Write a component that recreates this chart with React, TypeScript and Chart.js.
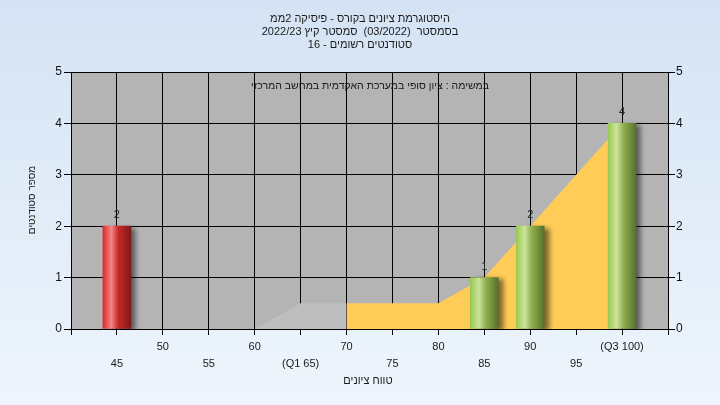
import React, { useEffect, useRef } from 'react';
import { Chart, registerables } from 'chart.js';
Chart.register(...registerables);

const titleLines = [
  'היסטוגרמת ציונים בקורס - פיסיקה 2ממ',
  'בסמסטר  (03/2022)  סמסטר קיץ 2022/23',
  'סטודנטים רשומים - 16',
];
const subtitleText = 'במשימה : ציון סופי במערכת האקדמית במחשב המרכזי';
const xAxisTitle = 'טווח ציונים';
const yAxisTitle = 'מספר סטודנטים';

const gradeTicks = [45, 50, 55, 60, 65, 70, 75, 80, 85, 90, 95, 100];
const gradeTickLabels = ['45', '50', '55', '60', '(Q1 65)', '70', '75', '80', '85', '90', '95', '(Q3 100)'];

const barGrades = [45, 85, 90, 100];
const barCounts = [2, 1, 2, 4];
const barKinds = ['fail', 'pass', 'pass', 'pass'];

const grayAreaGrades = [60, 65, 70];
const grayAreaValues = [0, 0.5, 0.5];
const yellowAreaGrades = [70, 75, 80, 85, 90, 95, 100];
const yellowAreaValues = [0.5, 0.5, 0.5, 1, 2, 3, 4];

const FONT = 'Arial, "Liberation Sans", sans-serif';

export default function App() {
  const ref = useRef<HTMLCanvasElement>(null);

  useEffect(() => {
    const canvas = ref.current!;

    const bgPlugin = {
      id: 'plotBg',
      beforeDraw(chart: any) {
        const { ctx, chartArea } = chart;
        ctx.save();
        ctx.fillStyle = '#b4b4b4';
        ctx.fillRect(chartArea.left, chartArea.top, chartArea.right - chartArea.left, chartArea.bottom - chartArea.top);
        ctx.restore();
      },
    };

    const shadowPlugin = {
      id: 'barShadow',
      beforeDatasetDraw(chart: any, args: any) {
        if (args.index === 0) {
          const ctx = chart.ctx;
          ctx.save();
          ctx.shadowColor = 'rgba(0,0,0,0.5)';
          ctx.shadowOffsetX = 5;
          ctx.shadowOffsetY = 2;
          ctx.shadowBlur = 5;
        }
      },
      afterDatasetDraw(chart: any, args: any) {
        if (args.index === 0) chart.ctx.restore();
      },
    };

    const textPlugin = {
      id: 'texts',
      afterDraw(chart: any) {
        const ctx = chart.ctx as CanvasRenderingContext2D;
        ctx.save();
        ctx.fillStyle = '#1a1a1a';
        ctx.textAlign = 'center';
        ctx.textBaseline = 'middle';
        (ctx as any).direction = 'rtl';
        ctx.font = `11px ${FONT}`;
        titleLines.forEach((t, i) => ctx.fillText(t, 360, 18.5 + i * 13));
        ctx.fillText(xAxisTitle, 368, 381);
        ctx.font = `10.5px ${FONT}`;
        ctx.fillText(subtitleText, 370, 86);
        ctx.save();
        ctx.translate(32, 200);
        ctx.rotate(-Math.PI / 2);
        ctx.font = `10px ${FONT}`;
        ctx.fillText(yAxisTitle, 0, 0);
        ctx.restore();

        (ctx as any).direction = 'ltr';
        ctx.fillStyle = '#222';
        ctx.font = `11px ${FONT}`;
        const meta = chart.getDatasetMeta(0);
        meta.data.forEach((el: any, i: number) => {
          ctx.fillText(String(barCounts[i]), el.x, el.y - 11);
        });
        ctx.restore();
      },
    };

    const barColor = (c: any) => {
      const chart = c.chart;
      const xs = chart.scales && chart.scales.x;
      const kind = barKinds[c.dataIndex];
      const flat = kind === 'fail' ? '#d03030' : '#90b850';
      if (!xs || c.dataIndex === undefined) return flat;
      const cx = xs.getPixelForValue(barGrades[c.dataIndex]);
      if (!isFinite(cx)) return flat;
      const g = chart.ctx.createLinearGradient(cx - 14, 0, cx + 14, 0);
      if (kind === 'fail') {
        g.addColorStop(0, '#e02828');
        g.addColorStop(0.3, '#f08888');
        g.addColorStop(0.55, '#c82828');
        g.addColorStop(1, '#801818');
      } else {
        g.addColorStop(0, '#98c850');
        g.addColorStop(0.3, '#cce49a');
        g.addColorStop(0.55, '#90b050');
        g.addColorStop(1, '#56702c');
      }
      return g;
    };

    const chart = new Chart(canvas, {
      type: 'bar',
      data: {
        datasets: [
          {
            type: 'bar',
            data: barGrades.map((g, i) => ({ x: g, y: barCounts[i] })),
            backgroundColor: barColor as any,
            borderWidth: 0,
            barThickness: 28,
            yAxisID: 'y',
          } as any,
          {
            type: 'line',
            data: yellowAreaGrades.map((g, i) => ({ x: g, y: yellowAreaValues[i] })),
            borderWidth: 0,
            borderColor: 'rgba(0,0,0,0)',
            backgroundColor: '#ffcc58',
            fill: 'origin',
            pointRadius: 0,
            tension: 0,
            yAxisID: 'y',
          } as any,
          {
            type: 'line',
            data: grayAreaGrades.map((g, i) => ({ x: g, y: grayAreaValues[i] })),
            borderWidth: 0,
            borderColor: 'rgba(0,0,0,0)',
            backgroundColor: '#bebebe',
            fill: 'origin',
            pointRadius: 0,
            tension: 0,
            yAxisID: 'y',
          } as any,
        ],
      },
      options: {
        responsive: false,
        devicePixelRatio: 1,
        animation: false,
        layout: { padding: { top: 72, left: 0, right: 0, bottom: 0 } },
        plugins: {
          legend: { display: false },
          tooltip: { enabled: false },
          title: { display: false },
        },
        scales: {
          x: {
            type: 'linear',
            min: 40,
            max: 105,
            offset: false,
            afterFit: (s: any) => { s.height = 76; },
            afterBuildTicks: (s: any) => {
              s.ticks = [40, ...gradeTicks, 105].map((v) => ({ value: v }));
            },
            grid: { color: '#000', lineWidth: 1, tickLength: 6, offset: false, tickColor: '#000' },
            border: { color: '#000', width: 1 },
            ticks: {
              autoSkip: false,
              maxRotation: 0,
              padding: 3,
              color: '#1a1a1a',
              font: { family: FONT, size: 11, lineHeight: 17 / 11 },
              callback: (v: any) => {
                const idx = gradeTicks.indexOf(Number(v));
                if (idx < 0) return '';
                return idx % 2 === 0 ? ['', gradeTickLabels[idx]] : [gradeTickLabels[idx], ''];
              },
            },
          },
          y: {
            position: 'left',
            min: 0,
            max: 5,
            afterFit: (s: any) => { s.width = 71; },
            grid: { color: '#000', lineWidth: 1, tickLength: 7, tickColor: '#000' },
            border: { color: '#000', width: 1 },
            ticks: {
              stepSize: 1,
              padding: 2,
              color: '#111',
              font: { family: FONT, size: 12 },
            },
          },
          y2: {
            position: 'right',
            min: 0,
            max: 5,
            afterFit: (s: any) => { s.width = 52; },
            grid: { drawOnChartArea: false, tickLength: 7, tickColor: '#000' },
            border: { color: '#000', width: 1 },
            ticks: {
              stepSize: 1,
              padding: 1,
              color: '#111',
              font: { family: FONT, size: 12 },
            },
          },
        },
      } as any,
      plugins: [bgPlugin, shadowPlugin, textPlugin],
    });

    return () => chart.destroy();
  }, []);

  return (
    <div
      style={{
        position: 'fixed',
        left: 0,
        top: 0,
        width: 720,
        height: 405,
        background: 'linear-gradient(to bottom, #d4e3f4, #eef5fc)',
      }}
    >
      <canvas ref={ref} width={720} height={405} style={{ display: 'block', width: 720, height: 405 }} />
    </div>
  );
}
